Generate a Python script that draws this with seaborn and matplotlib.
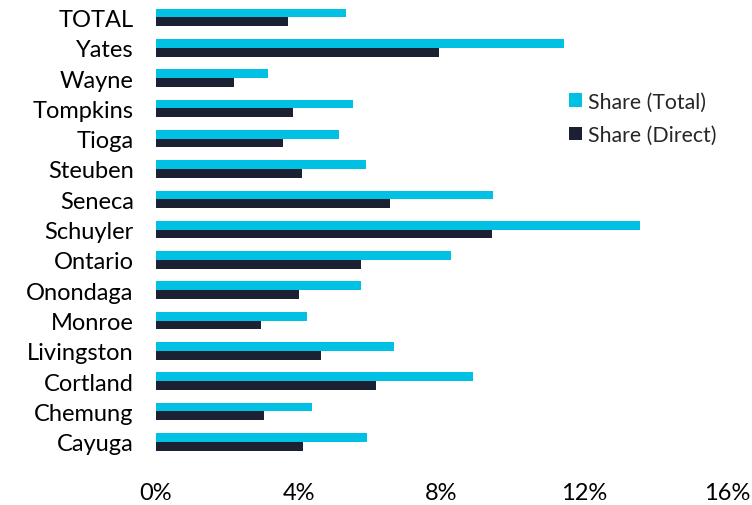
import pandas as pd
import seaborn as sns
import matplotlib.pyplot as plt
from matplotlib.ticker import FuncFormatter

counties = ['TOTAL', 'Yates', 'Wayne', 'Tompkins', 'Tioga', 'Steuben', 'Seneca',
            'Schuyler', 'Ontario', 'Onondaga', 'Monroe', 'Livingston', 'Cortland',
            'Chemung', 'Cayuga']
share_total = [5.33, 11.42, 3.13, 5.53, 5.14, 5.88, 9.43, 13.55, 8.28, 5.75,
               4.23, 6.67, 8.87, 4.38, 5.91]
share_direct = [3.71, 7.94, 2.18, 3.85, 3.57, 4.09, 6.57, 9.41, 5.75, 4.00,
                2.94, 4.63, 6.17, 3.04, 4.11]
x_ticks = [0, 4, 8, 12, 16]

df = pd.DataFrame({'County': counties * 2,
                   'Share': share_total + share_direct,
                   'Series': ['Share (Total)'] * len(counties) + ['Share (Direct)'] * len(counties)})

sns.set_style('white')
plt.rcParams['font.family'] = ['Lato', 'DejaVu Sans']

fig = plt.figure(figsize=(7.52, 5.06), dpi=100)
ax = fig.add_axes([0.2074, 0.095, 0.7594, 0.8985])
sns.barplot(data=df, y='County', x='Share', hue='Series', order=counties,
            palette=['#00C0E4', '#1B2033'], saturation=1, width=0.58,
            linewidth=0, ax=ax)

ax.set_xlim(0, 16)
ax.set_xticks(x_ticks)
ax.xaxis.set_major_formatter(FuncFormatter(lambda v, p: f'{v:.0f}%'))
ax.set_xlabel('')
ax.set_ylabel('')
ax.tick_params(axis='both', length=0, labelsize=17, colors='black')
ax.tick_params(axis='x', pad=18)
ax.tick_params(axis='y', pad=16)
sns.despine(left=True, bottom=True)

ax.legend(title=None, frameon=False, loc='center left', bbox_to_anchor=(0.69, 0.745),
          fontsize=15.3, handlelength=0.6, handleheight=0.6, handletextpad=0.3,
          labelspacing=0.62)

fig.savefig('out.png', dpi=100)
